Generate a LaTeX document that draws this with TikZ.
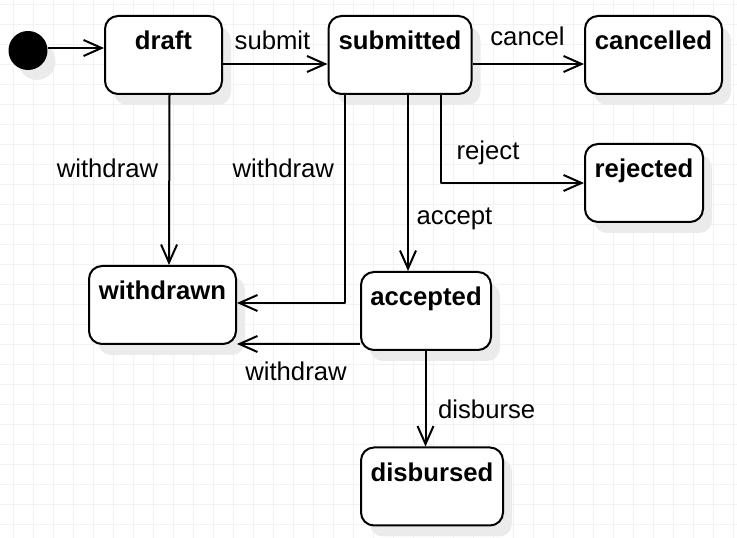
\documentclass[tikz,border=0pt]{standalone}
\usepackage{fontspec}
\setmainfont{Liberation Sans}
\usepackage{tikz}
\usetikzlibrary{arrows.meta,shadows}

\begin{document}
\begin{tikzpicture}[>={Straight Barb[length=18bp,width=16bp]},line join=round,line width=2bp,
  every node/.append style={font=\fontsize{25.8}{31}\selectfont},
  shade/.style={drop shadow={shadow xshift=9bp,shadow yshift=-11bp,fill=black!8,opacity=1}},
  state/.style={draw,rounded corners=13bp,fill=white,inner sep=0pt,minimum height=78bp,
    text height=34bp,text depth=44bp,font=\fontsize{25.8}{31}\selectfont\bfseries,shade},
  ]
\useasboundingbox (0bp,0bp) rectangle (737bp,538bp);
%% grid
\foreach \gx in {13,33,...,733} \draw [black!5,line width=0.8bp] (\gx bp,0bp) -- (\gx bp,538bp);
\foreach \gy in {14,34,...,534} \draw [black!5,line width=0.8bp] (0bp,\gy bp) -- (737bp,\gy bp);
%%
\node (init) at (28.0bp,487.5bp) [draw,circle,fill=black,minimum size=37bp,inner sep=0pt,shade] {};
  \node (draft) at (163.5bp,483.0bp) [state,minimum width=117bp] {draft};
  \node (submitted) at (400.0bp,483.0bp) [state,minimum width=143bp] {submitted};
  \node (cancelled) at (653.5bp,483.0bp) [state,minimum width=137bp] {cancelled};
  \node (rejected) at (644.0bp,355.0bp) [state,minimum width=118bp] {rejected};
  \node (withdrawn) at (162.5bp,233.0bp) [state,minimum width=147bp] {withdrawn};
  \node (accepted) at (426.0bp,227.0bp) [state,minimum width=130bp] {accepted};
  \node (disbursed) at (432.0bp,51.5bp) [state,minimum width=142bp] {disbursed};
  \draw [->] ([yshift=2.5bp]init.east) -- ([yshift=7bp]draft.west);
  \draw [->] ([yshift=-9bp]draft.east) -- ([yshift=-9bp]submitted.west);
  \node (lsubmit) at (272.5bp,488.0bp) [anchor=base] {submit};
  \draw [->] ([yshift=-9bp]submitted.east) -- ([yshift=-9bp]cancelled.west);
  \node (lcancel) at (527.5bp,492.3bp) [anchor=base] {cancel};
  \draw [->] ([xshift=41bp]submitted.south) |- (rejected.west);
  \node (lreject) at (488.0bp,378.5bp) [anchor=base] {reject};
  \draw [->] ([xshift=8bp]submitted.south) -- ([xshift=-18bp]accepted.north);
  \node (laccept) at (454.5bp,313.0bp) [anchor=base] {accept};
  \draw [->] ([xshift=-55bp]submitted.south) |- ([yshift=2bp]withdrawn.east);
  \node (lwithdrawB) at (283.3bp,360.5bp) [anchor=base] {withdraw};
  \draw [->] ([xshift=6bp]draft.south) -- ([xshift=6.5bp]withdrawn.north);
  \node (lwithdrawA) at (107.5bp,360.5bp) [anchor=base] {withdraw};
  \draw [->] ([yshift=-33bp]accepted.west) -- ([yshift=-39bp]withdrawn.east);
  \node (lwithdrawC) at (296.0bp,157.0bp) [anchor=base] {withdraw};
  \draw [->] ([xshift=-0.5bp]accepted.south) -- ([xshift=-6.5bp]disbursed.north);
  \node (ldisburse) at (486.7bp,119.0bp) [anchor=base] {disburse};
%
\end{tikzpicture}
\end{document}
